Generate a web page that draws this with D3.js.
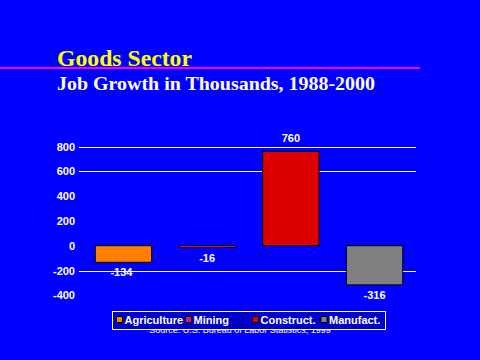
<!DOCTYPE html>
<html><head><meta charset="utf-8">
<script src="https://cdn.jsdelivr.net/npm/d3@7"></script>
<style>html,body{margin:0;padding:0;background:#0000ff;}svg{display:block;}</style>
</head><body>
<svg id="c" width="480" height="360"></svg>
<script>
const categories = ["Agriculture", "Mining", "Construct.", "Manufact."];
const values = [-134, -16, 760, -316];
const colors = ["#ff8000", "#e0107f", "#dd0000", "#808080"];
const tickValues = [800, 600, 400, 200, 0, -200, -400];
const gridValues = [800, 600, -200];

const svg = d3.select("#c");
svg.append("rect").attr("width", 480).attr("height", 360).attr("fill", "#0000ff");

// Titles
svg.append("text").attr("x", 57).attr("y", 66).attr("fill", "#ffff00")
  .attr("font-family", "'Liberation Serif', 'Times New Roman', serif").attr("font-weight", "bold")
  .attr("font-size", 23).attr("textLength", 135).attr("lengthAdjust", "spacingAndGlyphs")
  .text("Goods Sector");
svg.append("line").attr("x1", 0).attr("x2", 420).attr("y1", 68).attr("y2", 68)
  .attr("stroke", "#ff00ff").attr("stroke-width", 2);
svg.append("text").attr("x", 57).attr("y", 89.5).attr("fill", "#ffffff")
  .attr("font-family", "'Liberation Serif', 'Times New Roman', serif").attr("font-weight", "bold")
  .attr("font-size", 19).attr("textLength", 318).attr("lengthAdjust", "spacingAndGlyphs")
  .text("Job Growth in Thousands, 1988-2000");

const y = d3.scaleLinear().domain([-400, 800]).range([295.3, 146.5]);
const x = d3.scaleBand().domain(categories).range([81.6, 416.4]).paddingInner(0.326).paddingOuter(0.163);

// gridlines
svg.append("g").selectAll("line").data(gridValues).join("line")
  .attr("x1", 79).attr("x2", 416)
  .attr("y1", d => Math.round(y(d)) + 0.5).attr("y2", d => Math.round(y(d)) + 0.5)
  .attr("stroke", "#ffffff").attr("stroke-width", 1);

// y axis labels
const axis = d3.axisLeft(y).tickValues(tickValues).tickSize(0).tickPadding(0).tickFormat(d => String(d));
const ag = svg.append("g").attr("transform", "translate(75,0)").call(axis);
ag.select(".domain").remove();
ag.selectAll("text").attr("fill", "#ffffff").attr("font-family", "'Liberation Sans', Arial, sans-serif")
  .attr("font-weight", "bold").attr("font-size", 11);

// bars
svg.append("g").selectAll("rect").data(values).join("rect")
  .attr("x", (d, i) => x(categories[i]))
  .attr("width", x.bandwidth())
  .attr("y", d => y(Math.max(0, d)))
  .attr("height", d => Math.max(1.5, Math.abs(y(d) - y(0))))
  .attr("fill", (d, i) => colors[i])
  .attr("stroke", "#000000").attr("stroke-width", 1);

// value labels
svg.append("g").selectAll("text").data(values).join("text")
  .attr("x", (d, i) => x(categories[i]) + x.bandwidth() / 2 - (i === 0 ? 2 : 0))
  .attr("y", d => d >= 0 ? y(d) - 9 : Math.max(y(d) + 14, y(0) + 16))
  .attr("text-anchor", "middle").attr("fill", "#ffffff")
  .attr("font-family", "'Liberation Sans', Arial, sans-serif").attr("font-weight", "bold").attr("font-size", 11)
  .text(d => String(d));

// source (partially hidden by legend)
svg.append("text").attr("x", 240).attr("y", 332.5).attr("text-anchor", "middle").attr("fill", "#ffffff")
  .attr("font-family", "'Liberation Sans', Arial, sans-serif").attr("font-size", 9)
  .text("Source: U.S. Bureau of Labor Statistics, 1999");

// legend
const lg = svg.append("g");
lg.append("rect").attr("x", 112.5).attr("y", 311.5).attr("width", 273).attr("height", 18)
  .attr("fill", "#0000c8").attr("stroke", "#ffffff").attr("stroke-width", 1);
const legX = [116, 185, 252, 320.5];
const items = lg.selectAll("g.it").data(categories).join("g").attr("class", "it")
  .attr("transform", (d, i) => `translate(${legX[i]},0)`);
items.append("rect").attr("x", 0.5).attr("y", 316.5).attr("width", 6).attr("height", 6)
  .attr("fill", (d, i) => colors[i]).attr("stroke", "#000000").attr("stroke-width", 1);
items.append("text").attr("x", 8.5).attr("y", 323.5).attr("fill", "#ffffff")
  .attr("font-family", "'Liberation Sans', Arial, sans-serif").attr("font-weight", "bold").attr("font-size", 11)
  .text(d => d);
</script>
</body></html>
